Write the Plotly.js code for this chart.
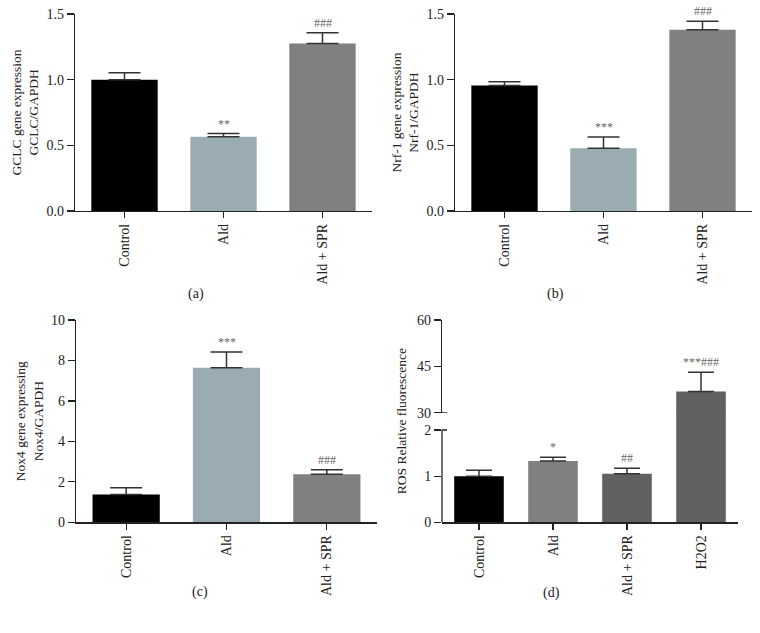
<!DOCTYPE html>
<html><head><meta charset="utf-8">
<script src="https://cdn.plot.ly/plotly-3.0.1.min.js"></script>
<style>html,body{margin:0;padding:0;background:#fff}#chart{width:760px;height:633px}</style>
</head><body><div id="chart"></div>
<script>
// ---- data ----
const cats3 = ['Control', 'Ald', 'Ald + SPR'];
const cats4 = ['Control', 'Ald', 'Ald + SPR', 'H2O2'];

const gclcMean = [1.00, 0.565, 1.276];
const gclcErr  = [0.053, 0.025, 0.081];
const gclcSig  = ['', '**', '###'];

const nrf1Mean = [0.955, 0.477, 1.38];
const nrf1Err  = [0.030, 0.086, 0.064];
const nrf1Sig  = ['', '***', '###'];

const nox4Mean = [1.38, 7.64, 2.37];
const nox4Err  = [0.33, 0.78, 0.23];
const nox4Sig  = ['', '***', '###'];

const rosMean = [1.00, 1.33, 1.05, 36.9];
const rosErr  = [0.13, 0.08, 0.12, 6.2];
const rosSig  = ['', '*', '##', '***###'];

const panelLabels = ['(a)', '(b)', '(c)', '(d)'];
const yTitles = ['GCLC gene expression<br>GCLC/GAPDH', 'Nrf-1 gene expression<br>Nrf-1/GAPDH',
                 'Nox4 gene expressing<br>Nox4/GAPDH', 'ROS Relative fluorescence'];

// ---- styles ----
const colors3 = ['#000000', '#9aabb2', '#808080'];
const colors4 = ['#000000', '#808080', '#616161', '#616161'];
const FONT = 'Liberation Serif, Times New Roman, serif';
const axisCol = '#222';
const W = 760, H = 633;
const px = v => v / W, py = v => 1 - v / H;

const lowTop = 2, upBottom = 30;   // broken axis in (d)
// lower part: 0 at 522.3px, 2 at 430px; domain reaches 411.7px to overlap the upper part by 1px
const lowPxPerUnit = (522.3 - 430) / 2;
const lowRangeTop = (522.3 - 411.7) / lowPxPerUnit;

function barTrace(x, y, err, colors, xa, ya, cap) {
  return {
    type: 'bar', x: x, y: y, xaxis: xa, yaxis: ya, width: 0.67,
    marker: {color: colors, line: {width: 0}},
    error_y: {type: 'data', symmetric: false, array: err, arrayminus: err.map(e => e == null ? null : 0),
              color: '#333', thickness: 1.5, width: cap},
    hoverinfo: 'skip', showlegend: false
  };
}

const traces = [
  barTrace(cats3, gclcMean, gclcErr, colors3, 'x', 'y', 16),
  barTrace(cats3, nrf1Mean, nrf1Err, colors3, 'x2', 'y2', 16),
  barTrace(cats3, nox4Mean, nox4Err, colors3, 'x3', 'y3', 16),
  barTrace(cats4, rosMean, rosErr.map((e, i) => rosMean[i] <= lowTop ? e : null), colors4, 'x4', 'y4', 13),
  barTrace(cats4, rosMean, rosErr.map((e, i) => rosMean[i] > lowTop ? e : null), colors4, 'x4', 'y5', 13)
];

const tickFont = {family: FONT, size: 14, color: '#222'};
function xax(dom, anchor) {
  return {domain: dom, anchor: anchor, type: 'category', showline: true, linecolor: axisCol, linewidth: 1.3,
          ticks: 'outside', ticklen: 6, tickcolor: axisCol, tickwidth: 1.3, tickangle: -90,
          tickfont: tickFont, showgrid: false, zeroline: false, fixedrange: true};
}
function yax(dom, anchor, range, tickvals, fmt, title) {
  return {domain: dom, anchor: anchor, range: range, tickvals: tickvals, tickformat: fmt,
          showline: true, linecolor: axisCol, linewidth: 1.3, ticks: 'outside', ticklen: 7,
          tickcolor: axisCol, tickwidth: 1.3, tickfont: tickFont, showgrid: false, zeroline: false,
          fixedrange: true,
          title: title ? {text: title, font: {family: FONT, size: 13.5, color: '#222'}, standoff: 4} : undefined};
}

const layout = {
  width: W, height: H, margin: {l: 0, r: 0, t: 0, b: 0},
  paper_bgcolor: '#fff', plot_bgcolor: 'rgba(0,0,0,0)', bargap: 0.33,
  font: {family: FONT, color: '#222'},
  xaxis:  Object.assign(xax([px(75), px(372)], 'y'), {range: [-0.5, 2.5]}),
  xaxis2: Object.assign(xax([px(455), px(752)], 'y2'), {range: [-0.5, 2.5]}),
  xaxis3: Object.assign(xax([px(76), px(377)], 'y3'), {range: [-0.5, 2.5]}),
  xaxis4: Object.assign(xax([px(442), px(738)], 'y4'), {range: [-0.5, 3.5]}),
  yaxis:  yax([py(211), py(14)], 'x', [0, 1.5], [0, 0.5, 1.0, 1.5], '.1f', yTitles[0]),
  yaxis2: yax([py(211), py(14)], 'x2', [0, 1.5], [0, 0.5, 1.0, 1.5], '.1f', yTitles[1]),
  yaxis3: yax([py(522.3), py(320)], 'x3', [0, 10], [0, 2, 4, 6, 8, 10], 'd', yTitles[2]),
  yaxis4: Object.assign(yax([py(522.3), py(411.7)], 'x4', [0, lowRangeTop], [0, 1, 2], 'd', null), {showline: false}),
  yaxis5: yax([py(412.7), py(320)], 'x4', [upBottom, 60], [30, 45, 60], 'd', null),
  annotations: [],
  shapes: []
};

// significance labels
function addSig(cats, mean, err, sig, xref, yrefFn) {
  cats.forEach((c, i) => {
    if (!sig[i]) return;
    layout.annotations.push({x: c, y: mean[i] + err[i], xref: xref, yref: yrefFn(i), text: sig[i],
      showarrow: false, yanchor: 'bottom', yshift: 1, font: {family: FONT, size: 12, color: '#666'}});
  });
}
addSig(cats3, gclcMean, gclcErr, gclcSig, 'x', () => 'y');
addSig(cats3, nrf1Mean, nrf1Err, nrf1Sig, 'x2', () => 'y2');
addSig(cats3, nox4Mean, nox4Err, nox4Sig, 'x3', () => 'y3');
addSig(cats4, rosMean, rosErr, rosSig, 'x4', i => rosMean[i] > lowTop ? 'y5' : 'y4');

// y title for (d) as annotation
layout.annotations.push({x: px(401), y: (py(522.3) + py(320)) / 2, xref: 'paper', yref: 'paper', text: yTitles[3],
  textangle: -90, showarrow: false, font: {family: FONT, size: 13.5, color: '#222'}});

// panel labels
[[186, 294], [566, 294], [190, 602], [562, 603]].forEach((p, i) => {
  layout.annotations.push({x: px(p[0]), y: py(p[1]), xref: 'paper', yref: 'paper', text: panelLabels[i],
    showarrow: false, font: {family: FONT, size: 14, color: '#222'}});
});

// lower axis line for (d) and break caps
layout.shapes.push({type: 'line', xref: 'x4 domain', yref: 'y4', x0: 0, x1: 0, y0: 0, y1: lowTop,
  line: {color: axisCol, width: 1.3}});
layout.shapes.push({type: 'line', xref: 'x4 domain', yref: 'y4', x0: 0, x1: 0.017, y0: lowTop, y1: lowTop,
  line: {color: axisCol, width: 1.3}});
layout.shapes.push({type: 'line', xref: 'x4 domain', yref: 'y5', x0: 0, x1: 0.017, y0: upBottom, y1: upBottom,
  line: {color: axisCol, width: 1.3}});

Plotly.newPlot('chart', traces, layout, {staticPlot: true, displayModeBar: false});
</script></body></html>
